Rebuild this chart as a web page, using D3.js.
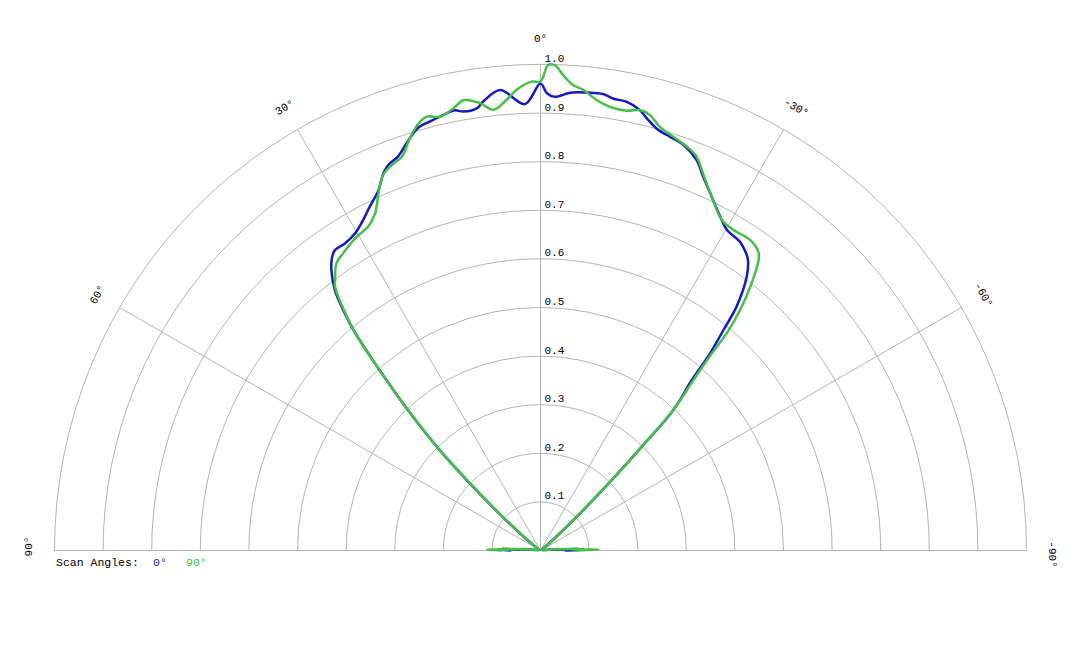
<!DOCTYPE html>
<html>
<head>
<meta charset="utf-8">
<script src="https://cdn.jsdelivr.net/npm/d3@7"></script>
<style>
  body { margin: 0; background: #fff; }
  text { font-family: "Liberation Mono", "DejaVu Sans Mono", monospace; }
</style>
</head>
<body>
<div id="polar"></div>
<script>
// data: angle (deg, + is left) and normalised level
const scanAngles = ["0°", "90°"]
const radialTicks = [0.1, 0.2, 0.3, 0.4, 0.5, 0.6, 0.7, 0.8, 0.9, 1.0]
const angleTicks = [90, 60, 30, 0, -30, -60, -90]

const blueAngles = [90, 89, 88, 87, 86, 85, 83, 80, 70, 60, 54, 51, 48.5, 46.5, 45.0, 43.3, 41.7, 40.3, 38.9, 38.3,
  36.7, 35.5, 34.4, 32.5, 30.3, 28.2, 26.4, 24.2, 22.6, 21.5, 19.9, 18.2, 17.0, 15.9, 14.0, 12.1, 11.0, 10.0, 8.2, 7.3,
  5.0, 2.0, 0.0, -0.8, -1.8, -3.7, -5.8, -7.8, -9.1, -10.9, -12.7, -13.8, -15.6, -17.4, -19.4, -21.8, -23.5, -25.8, -28.3, -30.2,
  -32.9, -34.5, -35.5, -37.0, -38.8, -39.7, -40.7, -41.6, -43.4, -44.3, -45.3, -47.0, -49, -52, -60, -70, -80, -84, -86, -87,
  -88, -89, -90]
const blueValues = [0.06, 0.09, 0.04, 0.06, 0.02, 0.03, 0.01, 0.005, 0.003, 0.004, 0.01, 0.04, 0.10, 0.20, 0.30, 0.40, 0.50, 0.595, 0.66, 0.683,
  0.720, 0.739, 0.749, 0.749, 0.756, 0.772, 0.790, 0.813, 0.841, 0.853, 0.862, 0.882, 0.897, 0.907, 0.913, 0.920, 0.923, 0.917, 0.919, 0.931,
  0.951, 0.919, 0.961, 0.941, 0.934, 0.944, 0.947, 0.948, 0.942, 0.940, 0.929, 0.916, 0.899, 0.892, 0.885, 0.865, 0.839, 0.809, 0.780, 0.763,
  0.756, 0.745, 0.735, 0.705, 0.644, 0.589, 0.535, 0.469, 0.398, 0.298, 0.206, 0.102, 0.04, 0.01, 0.004, 0.003, 0.005, 0.01, 0.02, 0.05,
  0.03, 0.09, 0.05]

const greenAngles = [90, 89, 88, 87, 86, 85, 84, 82, 75, 65, 56, 52, 50, 48.5, 46.4, 45.0, 43.3, 41.7, 40.3, 37.9,
  37.2, 35.4, 33.6, 30.4, 28.0, 26.1, 24.4, 22.7, 21.1, 19.4, 17.9, 16.9, 15.7, 14.7, 13.0, 11.2, 9.7, 7.7, 6.1, 4.3,
  3.0, 1.1, 0.0, -0.9, -1.7, -2.7, -4.0, -5.3, -7.1, -8.9, -11.1, -12.7, -14.1, -15.7, -17.8, -19.9, -21.6, -23.3, -25.8, -28.7,
  -31.0, -34.0, -36.1, -36.8, -38.3, -39.7, -40.6, -41.0, -41.9, -43.4, -44.3, -45.3, -47.0, -49, -52, -56, -65, -75, -82, -84,
  -85, -86, -87, -88, -89, -90]
const greenValues = [0.08, 0.11, 0.05, 0.08, 0.03, 0.04, 0.015, 0.01, 0.004, 0.003, 0.005, 0.02, 0.05, 0.10, 0.20, 0.30, 0.397, 0.502, 0.595, 0.688,
  0.699, 0.725, 0.734, 0.748, 0.755, 0.773, 0.807, 0.838, 0.850, 0.859, 0.884, 0.901, 0.916, 0.923, 0.916, 0.927, 0.940, 0.929, 0.912, 0.930,
  0.949, 0.965, 0.965, 0.999, 0.999, 0.980, 0.960, 0.952, 0.934, 0.924, 0.922, 0.929, 0.924, 0.906, 0.894, 0.884, 0.872, 0.845, 0.809, 0.776,
  0.770, 0.771, 0.761, 0.750, 0.701, 0.643, 0.589, 0.537, 0.471, 0.398, 0.298, 0.206, 0.102, 0.05, 0.02, 0.005, 0.003, 0.004, 0.01, 0.015,
  0.04, 0.03, 0.08, 0.06, 0.12, 0.07]

const seriesColors = ["#1418c8", "#44c044"]

function drawPolar() {

    // chart dimensions
    let dimensions = {
        width: 1080,
        height: 648,
        cx: 540.5,
        cy: 550.5,
        radius: 486,
        labelRadius: 512,
    }

    const wrapper = d3.select("#polar")
      .append("svg")
        .attr("width", dimensions.width)
        .attr("height", dimensions.height)

    const bounds = wrapper.append("g")
        .attr("transform", `translate(${dimensions.cx},${dimensions.cy})`)

    // scales
    const rScale = d3.scaleLinear()
        .domain([0, 1])
        .range([0, dimensions.radius])

    const toRad = a => -a * Math.PI / 180

    // grid rings
    const grid = bounds.append("g")
        .attr("fill", "none")
        .attr("stroke", "#b4b4b4")
        .attr("stroke-width", 1)

    grid.selectAll("path.ring")
        .data(radialTicks)
        .enter()
        .append("path")
        .attr("class", "ring")
        .attr("d", t => {
            const p = d3.path()
            p.arc(0, 0, rScale(t), Math.PI, 2 * Math.PI)
            return p.toString()
        })

    // spokes
    grid.selectAll("line.spoke")
        .data(angleTicks)
        .enter()
        .append("line")
        .attr("class", "spoke")
        .attr("x1", 0)
        .attr("y1", 0)
        .attr("x2", a => rScale(1) * Math.sin(toRad(a)))
        .attr("y2", a => -rScale(1) * Math.cos(toRad(a)))

    // radial tick labels
    bounds.selectAll("text.rtick")
        .data(radialTicks)
        .enter()
        .append("text")
        .attr("class", "rtick")
        .attr("x", 4)
        .attr("y", t => -rScale(t) - 2.5)
        .attr("font-size", 11)
        .attr("fill", "#000")
        .text(t => d3.format(".1f")(t))

    // angle labels
    bounds.selectAll("text.atick")
        .data(angleTicks)
        .enter()
        .append("text")
        .attr("class", "atick")
        .attr("transform", a => {
            const x = dimensions.labelRadius * Math.sin(toRad(a))
            const y = -dimensions.labelRadius * Math.cos(toRad(a))
            return `translate(${x},${y}) rotate(${-a})`
        })
        .attr("text-anchor", "middle")
        .attr("dy", "0.35em")
        .attr("dx", a => Math.abs(a) == 90 ? 4 : 0)
        .attr("font-size", 11)
        .attr("fill", "#000")
        .text(a => a + "°")

    // curves
    const series = [
        blueAngles.map((a, i) => ({a: a, v: blueValues[i]})),
        greenAngles.map((a, i) => ({a: a, v: greenValues[i]})),
    ]

    const lineGenerator = d3.lineRadial()
        .angle(d => toRad(d.a))
        .radius(d => rScale(d.v))
        .curve(d3.curveCatmullRom.alpha(0.5))

    bounds.selectAll("path.curve")
        .data(series)
        .enter()
        .append("path")
        .attr("class", "curve")
        .attr("d", lineGenerator)
        .attr("fill", "none")
        .attr("stroke", (d, i) => seriesColors[i])
        .attr("stroke-width", 2.5)
        .attr("stroke-linejoin", "round")

    // legend
    const legend = wrapper.append("g")
        .attr("font-size", 11.5)

    legend.append("text")
        .attr("x", 56)
        .attr("y", 566)
        .attr("fill", "#000")
        .text("Scan Angles:")

    legend.selectAll("text.key")
        .data(scanAngles)
        .enter()
        .append("text")
        .attr("class", "key")
        .attr("x", (d, i) => [153, 186][i])
        .attr("y", 566)
        .attr("fill", (d, i) => seriesColors[i])
        .text(d => d)
}

drawPolar()
</script>
</body>
</html>
